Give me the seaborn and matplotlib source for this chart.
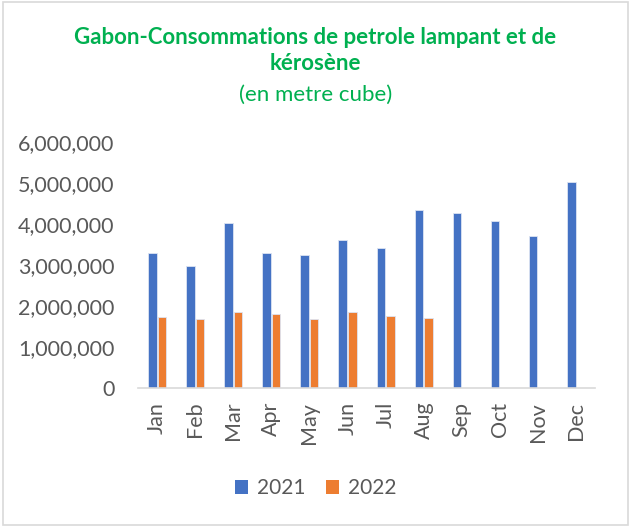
import numpy as np
import pandas as pd
import matplotlib
matplotlib.use("Agg")
import matplotlib.pyplot as plt
import seaborn as sns
from matplotlib.patches import Rectangle
from matplotlib.ticker import FuncFormatter

# Data (metres cubes)
months = ['Jan', 'Feb', 'Mar', 'Apr', 'May', 'Jun', 'Jul', 'Aug', 'Sep', 'Oct', 'Nov', 'Dec']
vals_2021 = [3290000, 2970000, 4020000, 3300000, 3230000, 3600000, 3410000, 4330000,
             4270000, 4080000, 3710000, 5030000]
vals_2022 = [1720000, 1680000, 1840000, 1800000, 1690000, 1840000, 1760000, 1700000,
             np.nan, np.nan, np.nan, np.nan]
years = ['2021', '2022']

df = pd.DataFrame({
    'month': months * 2,
    'year': [years[0]] * 12 + [years[1]] * 12,
    'value': vals_2021 + vals_2022,
})

sns.set_theme(style='white')
plt.rcParams['font.family'] = ['Lato', 'DejaVu Sans']

fig = plt.figure(figsize=(6.31, 5.27), dpi=100)
ax = fig.add_axes([0.2187, 0.2638, 0.7243, 0.4673])

sns.barplot(data=df, x='month', y='value', hue='year', order=months, hue_order=years,
            palette=['#4472C4', '#ED7D31'], saturation=1, width=0.5, gap=0.1, ax=ax,
            errorbar=None, edgecolor='#DCE4F2', linewidth=0.6)

ax.set_ylim(0, 6000000)
ax.set_yticks(np.arange(0, 6000001, 1000000))
ax.yaxis.set_major_formatter(FuncFormatter(lambda v, p: f'{int(v):,}'))
ax.set_xlabel('')
ax.set_ylabel('')
ax.set_xlim(-0.5, 11.5)

for s in ['top', 'right', 'left']:
    ax.spines[s].set_visible(False)
ax.spines['bottom'].set_color('#D9D9D9')
ax.spines['bottom'].set_linewidth(1.2)

ax.tick_params(axis='y', length=0, pad=17, labelsize=15.5, labelcolor='#595959')
ax.tick_params(axis='x', length=0, pad=10, labelsize=15.5, labelcolor='#595959')
plt.setp(ax.get_xticklabels(), rotation=90, ha='center', va='top')

leg = ax.legend(loc='center', bbox_to_anchor=(0.5, 1 - 488 / 527), bbox_transform=fig.transFigure,
                ncol=2, frameon=False, fontsize=15, handlelength=0.65, handleheight=0.65,
                handletextpad=0.4, columnspacing=1.0, labelcolor='#595959')
for h in leg.legend_handles:
    h.set_edgecolor('none')

fig.text(0.5, 1 - 37 / 527, 'Gabon-Consommations de petrole lampant et de', ha='center', va='center',
         fontsize=16, fontweight='bold', color='#00B050')
fig.text(0.5, 1 - 64 / 527, 'kérosène', ha='center', va='center',
         fontsize=16, fontweight='bold', color='#00B050')
fig.text(0.5, 1 - 95 / 527, '(en metre cube)', ha='center', va='center',
         fontsize=16, color='#00B050')

fig.patches.append(Rectangle((0.004, 0.004), 0.992, 0.992, transform=fig.transFigure,
                             fill=False, edgecolor='#D9D9D9', linewidth=1.2))

fig.savefig('out.png', dpi=100)
